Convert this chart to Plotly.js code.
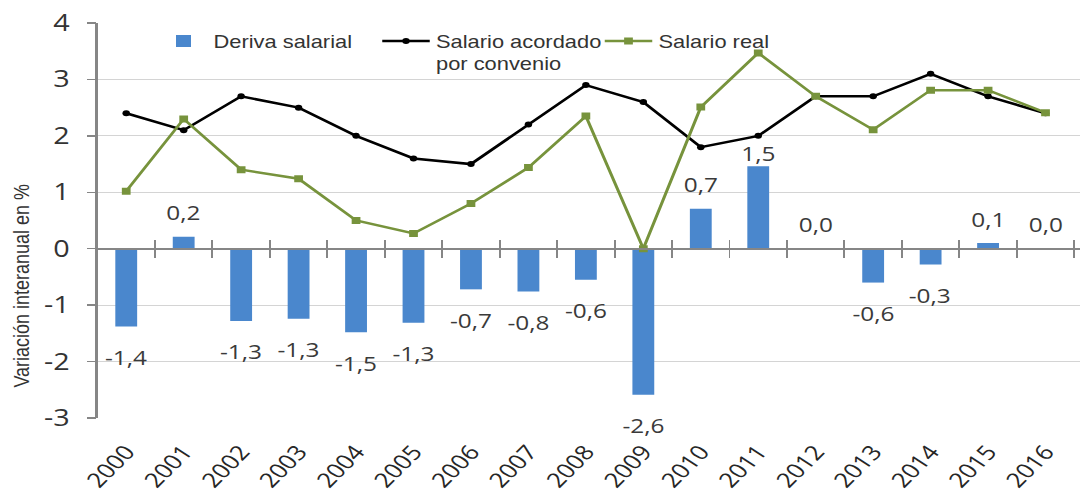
<!DOCTYPE html>
<html>
<head>
<meta charset="utf-8">
<script src="https://cdn.plot.ly/plotly-3.0.1.min.js"></script>
<style>
html,body{margin:0;padding:0;background:#fff;overflow:hidden;width:1080px;height:494px}
#chart{width:864px;height:494px;transform:scaleX(1.25);transform-origin:0 0}
</style>
</head>
<body>
<div id="chart"></div>
<script>
// ---- data ----
const years = ['2000','2001','2002','2003','2004','2005','2006','2007','2008','2009','2010','2011','2012','2013','2014','2015','2016'];
const derivaSalarial = [-1.38, 0.21, -1.28, -1.24, -1.48, -1.31, -0.72, -0.76, -0.55, -2.59, 0.71, 1.46, 0.0, -0.60, -0.28, 0.10, 0.0];
const derivaLabels = ['-1,4','0,2','-1,3','-1,3','-1,5','-1,3','-0,7','-0,8','-0,6','-2,6','0,7','1,5','0,0','-0,6','-0,3','0,1','0,0'];
const salarioAcordado = [2.4, 2.1, 2.7, 2.5, 2.0, 1.6, 1.5, 2.2, 2.9, 2.6, 1.8, 2.0, 2.7, 2.7, 3.1, 2.7, 2.4];
const salarioReal = [1.02, 2.3, 1.4, 1.24, 0.5, 0.27, 0.8, 1.44, 2.35, 0.0, 2.51, 3.47, 2.7, 2.11, 2.81, 2.81, 2.41];
const yTickVals = [-3, -2, -1, 0, 1, 2, 3, 4];
const yTickText = ['-3', '-2', '-1', '0', '1', '2', '3', '4'];
const yTitle = 'Variación interanual en %';
const seriesNames = ['Deriva salarial', 'Salario acordado<br>por convenio', 'Salario real'];

// ---- style ----
const blue = '#4a87cd';
const green = '#77933c';
const axisGray = '#868686';
const numFont = 'Open Sans, Noto Sans, sans-serif';
const txtFont = 'Liberation Sans, Arial, sans-serif';
const yMin = -3, yMax = 4;

const traces = [
  {type:'bar', x:years, y:derivaSalarial, name:seriesNames[0], width:0.38,
   marker:{color:blue}, hoverinfo:'skip'},
  {type:'scatter', mode:'lines+markers', x:years, y:salarioAcordado, name:seriesNames[1],
   line:{color:'#000000', width:2.5}, marker:{color:'#000000', size:6, symbol:'circle'}, hoverinfo:'skip'},
  {type:'scatter', mode:'lines+markers', x:years, y:salarioReal, name:seriesNames[2],
   line:{color:green, width:2.5}, marker:{color:green, size:7, symbol:'square'}, hoverinfo:'skip'},
  // carriers for the y=0 category axis (ticks below and above)
  {type:'scatter', mode:'none', x:years, y:salarioAcordado, xaxis:'x2', showlegend:false, hoverinfo:'skip'},
  {type:'scatter', mode:'none', x:years, y:salarioAcordado, xaxis:'x3', showlegend:false, hoverinfo:'skip'}
];

const zeroPos = (0 - yMin) / (yMax - yMin);
const xRange = [-0.5, 16.6];

// data labels: x given as category index on the category axis;
// tall positive bars get a smaller gap so the label stays clear of the lines
const annotations = derivaSalarial.map((v, i) => ({
  x: i, y: v, xref:'x', yref:'y', text: derivaLabels[i], showarrow:false,
  yanchor:'middle', xanchor:'center', yshift: v >= 0 ? (v > 1 ? 13 : 24) : -31,
  font:{family:numFont, size:19.5, color:'#3a3a3a'}
}));
annotations.push({
  xref:'paper', yref:'paper', x:0, y:0.335, xshift:-61, text:yTitle, textangle:-90,
  showarrow:false, xanchor:'center', yanchor:'middle',
  font:{family:txtFont, size:18, color:'#333333'}
});

const zeroAxis = (ticks) => ({
  type:'category', overlaying:'x', anchor:'free', position:zeroPos, range:xRange,
  categoryorder:'array', categoryarray:years,
  showline:true, linecolor:axisGray, linewidth:2,
  ticks:ticks, tickson:'boundaries', ticklen:8, tickwidth:1.5, tickcolor:axisGray,
  showticklabels:false, showgrid:false, zeroline:false
});

const layout = {
  width:864, height:494,
  margin:{l:78, r:0, t:23, b:76},
  paper_bgcolor:'#ffffff', plot_bgcolor:'#ffffff',
  showlegend:true,
  barmode:'overlay',
  xaxis:{type:'category', range:xRange, categoryorder:'array', categoryarray:years,
    showline:false, showgrid:false, zeroline:false, ticks:'', tickangle:-51, ticklabelstandoff:17,
    tickfont:{family:numFont, size:20.5, color:'#262626'}},
  xaxis2: zeroAxis('outside'),
  xaxis3: zeroAxis('inside'),
  yaxis:{range:[yMin, yMax], tickmode:'array', tickvals:yTickVals, ticktext:yTickText,
    showgrid:true, gridcolor:'#d4d4d4', gridwidth:1,
    zeroline:false, showline:true, linecolor:axisGray, linewidth:1.6,
    ticks:'outside', ticklen:7, tickwidth:1.5, tickcolor:axisGray, ticklabelstandoff:9,
    tickfont:{family:numFont, size:23, color:'#333333'}},
  legend:{orientation:'h', x:0.057, y:1.0, xanchor:'left', yanchor:'top',
    itemwidth:38, valign:'top', traceorder:'normal', entrywidth:125, entrywidthmode:'pixels',
    bgcolor:'rgba(0,0,0,0)', font:{family:txtFont, size:17.5, color:'#333333'}},
  annotations: annotations,
  hovermode:false
};

Plotly.newPlot('chart', traces, layout, {displayModeBar:false, staticPlot:true});
</script>
</body>
</html>
